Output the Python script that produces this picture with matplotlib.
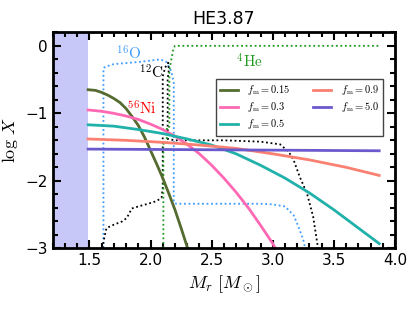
import matplotlib
matplotlib.use('Agg')
import matplotlib.pyplot as plt
from matplotlib.ticker import MultipleLocator

plt.rcParams['mathtext.fontset'] = 'cm'

# Ni-56 mixing curves (log X vs M_r)
x_015 = [1.49, 1.55, 1.6, 1.65, 1.7, 1.75, 1.8, 1.85, 1.9, 1.95, 2.0, 2.05, 2.1, 2.15, 2.2, 2.25, 2.3, 2.35]
y_015 = [-0.65, -0.66, -0.69, -0.73, -0.78, -0.84, -0.93, -1.05, -1.18, -1.35, -1.55, -1.75, -1.96, -2.19, -2.43, -2.7, -2.98, -3.3]

x_03 = [1.49, 1.6, 1.7, 1.8, 1.9, 2.0, 2.1, 2.2, 2.3, 2.4, 2.5, 2.6, 2.7, 2.8, 2.9, 3.0, 3.05]
y_03 = [-0.95, -0.97, -1.0, -1.04, -1.09, -1.16, -1.24, -1.34, -1.46, -1.6, -1.77, -1.96, -2.17, -2.4, -2.66, -2.93, -3.1]

x_05 = [1.49, 1.7, 1.9, 2.1, 2.3, 2.5, 2.7, 2.9, 3.1, 3.3, 3.5, 3.7, 3.87]
y_05 = [-1.17, -1.19, -1.24, -1.3, -1.38, -1.47, -1.6, -1.77, -1.96, -2.18, -2.43, -2.7, -2.93]

x_09 = [1.49, 1.8, 2.1, 2.4, 2.7, 3.0, 3.3, 3.6, 3.87]
y_09 = [-1.38, -1.40, -1.43, -1.47, -1.52, -1.6, -1.69, -1.8, -1.92]

x_50 = [1.49, 2.5, 3.87]
y_50 = [-1.53, -1.54, -1.555]

fm_labels = ['0.15', '0.3', '0.5', '0.9', '5.0']

# composition profiles (dotted)
x_o16 = [1.615, 1.615, 1.63, 1.7, 1.9, 2.08, 2.13, 2.17, 2.19, 2.19, 2.21, 2.9, 3.0, 3.1, 3.17, 3.21, 3.25, 3.265, 3.28]
y_o16 = [-3.2, -0.33, -0.31, -0.27, -0.24, -0.2, -0.24, -0.38, -0.55, -2.32, -2.34, -2.34, -2.35, -2.38, -2.51, -2.68, -2.88, -3.0, -3.1]

x_c12 = [1.605, 1.615, 1.64, 1.7, 1.77, 1.806, 1.847, 1.9, 1.98, 2.05, 2.09, 2.10, 2.10, 2.12, 2.145,
         2.15, 2.14, 2.14, 2.2, 2.6, 2.9, 3.06, 3.13, 3.17, 3.22, 3.28, 3.33, 3.37, 3.38]
y_c12 = [-3.2, -2.9, -2.7, -2.65, -2.6, -2.55, -2.41, -2.38, -2.34, -2.3, -2.25, -2.1, -0.45, -0.32, -0.25,
         -0.35, -0.5, -1.38, -1.4, -1.4, -1.42, -1.46, -1.57, -1.69, -1.94, -2.19, -2.53, -3.0, -3.1]

x_he4 = [2.105, 2.105, 2.133, 2.133, 2.154, 2.154, 2.187, 2.2, 2.3, 3.0, 3.87]
y_he4 = [-3.2, -1.45, -1.45, -1.2, -1.2, -0.36, -0.04, 0.0, 0.0, 0.0, 0.0]

core_edge = 1.49

fig = plt.figure(figsize=(4.15, 3.11), dpi=100)
ax = fig.add_axes([0.127, 0.2016, 0.825, 0.6944])

ax.axvspan(1.0, core_edge, color='#c8c8f8', lw=0, zorder=0)

dot = (1.0, 1.5)
ax.plot(x_o16, y_o16, color='#3d9bff', lw=1.3, dashes=dot)
ax.plot(x_c12, y_c12, color='black', lw=1.3, dashes=dot)
ax.plot(x_he4, y_he4, color='#1e9a1e', lw=1.3, dashes=dot)

colors = ['#556b2f', '#ff69b4', '#20b2aa', '#fa8072', '#6a5acd']
series = [(x_015, y_015), (x_03, y_03), (x_05, y_05), (x_09, y_09), (x_50, y_50)]
for (xs, ys), c, lab in zip(series, colors, fm_labels):
    ax.plot(xs, ys, color=c, lw=2, label=r'$f_{\rm m}=$' + r'$' + lab + '$')

ax.text(1.718, -0.11, r'$^{16}{\rm O}$', color='#3d9bff', fontsize=11, va='center')
ax.text(1.905, -0.40, r'$^{12}{\rm C}$', color='black', fontsize=11, va='center')
ax.text(1.805, -0.93, r'$^{56}{\rm Ni}$', color='red', fontsize=11, va='center')
ax.text(2.70, -0.24, r'$^{4}{\rm He}$', color='#1e9a1e', fontsize=11, va='center')

ax.set_xlim(1.2, 4.0)
ax.set_ylim(-3.0, 0.2)
ax.xaxis.set_major_locator(MultipleLocator(0.5))
ax.xaxis.set_minor_locator(MultipleLocator(0.1))
ax.yaxis.set_major_locator(MultipleLocator(1))
ax.yaxis.set_minor_locator(MultipleLocator(0.2))
ax.tick_params(which='both', direction='in', top=True, right=True, width=1.5, labelsize=11)
ax.tick_params(which='major', length=6)
ax.tick_params(which='minor', length=3.5)
for sp in ax.spines.values():
    sp.set_linewidth(2)

ax.set_xlabel(r'$M_r\ [M_\odot]$', fontsize=13)
ax.set_ylabel(r'$\log\,X$', fontsize=13)
ax.set_title('HE3.87', fontsize=12.5)

leg = ax.legend(ncol=2, loc='upper right', bbox_to_anchor=(0.965, 0.784), borderaxespad=0,
                fontsize=7.5, handlelength=1.7, frameon=True, fancybox=False, framealpha=1,
                columnspacing=2.2, labelspacing=0.3, handletextpad=0.9)
leg.get_frame().set_edgecolor('#444444')
leg.get_frame().set_linewidth(1)

fig.savefig('out.png', dpi=100)
